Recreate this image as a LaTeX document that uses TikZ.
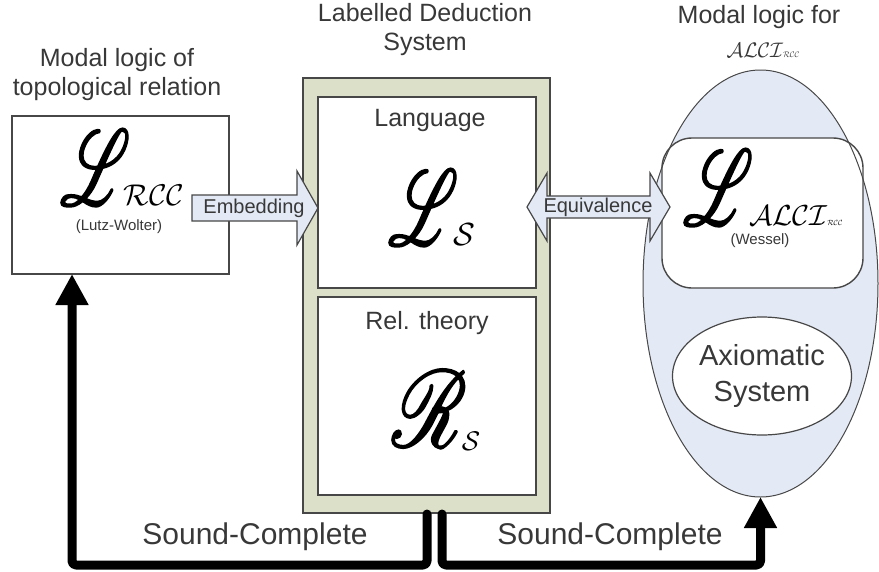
\documentclass[tikz,border=0pt]{standalone}
\usepackage{fontspec}
\setmainfont{Liberation Sans}
\usepackage{mathrsfs}
\usetikzlibrary{shapes.geometric,arrows.meta,calc}

\definecolor{ldsfill}{HTML}{DCE0C9}
\definecolor{ellfill}{HTML}{E4EAF5}
\definecolor{arrowfill}{HTML}{E3EAF6}
\definecolor{txtgray}{HTML}{383838}
\definecolor{edgegray}{HTML}{474747}

\tikzset{
  box/.style={draw=edgegray, line width=1.6pt, fill=white, outer sep=0pt, inner sep=0pt},
  ldsbox/.style={draw=edgegray, line width=1.4pt, fill=ldsfill, outer sep=0pt, inner sep=0pt},
  heading/.style={text=txtgray, align=center, inner sep=0pt, font=\fontsize{25}{29}\selectfont},
  caption/.style={text=txtgray, inner sep=0pt, font=\fontsize{15}{18}\selectfont},
  arrowtext/.style={text=txtgray, inner sep=0pt, font=\fontsize{20}{24}\selectfont},
  bigtext/.style={text=txtgray, inner sep=0pt, align=center, font=\fontsize{29}{36}\selectfont},
  glyph/.style={inner sep=0pt, outer sep=0pt, anchor=base west},
  blockarrow/.style={fill=arrowfill, draw=edgegray, line width=1.2pt, line join=miter},
  soundline/.style={line width=9pt, line cap=round, line join=round, rounded corners=4pt,
    -{Triangle[length=31pt,width=31pt]}},
}

% heavy script letter: glyph outline stroked as well as filled
\newcommand{\heavy}[1]{\special{pdf:literal direct 2 Tr 0.16 w}#1\special{pdf:literal direct 0 Tr}}
\newcommand{\bigscr}[1]{\scalebox{6.6}[10.7]{\heavy{$\mathscr{#1}$}}}
\newcommand{\subcal}[2]{\scalebox{#1}{$\mathcal{#2}$}}

\begin{document}
\begin{tikzpicture}[x=1pt,y=-1pt]
\useasboundingbox (0,0) rectangle (879,571);

% headings
\node[heading] (ttop) at (117,75) {Modal logic of\\topological relation};
\node[heading] (tlds) at (425,30) {Labelled Deduction\\System};
\node[heading] (tml) at (759,17) {Modal logic for};
\node[inner sep=0pt, text=txtgray] (tmlsub) at (763,50) {\subcal{2.1}{ALCI}\subcal{0.8}{RCC}};

% left box: topological modal logic
\node[box, minimum width=217pt, minimum height=158pt, anchor=north west] (lbox) at (12,116) {};
\node[glyph] (Lrcc) at (60,205) {\bigscr{L}\kern-6.4pt\subcal{3}{RCC}};
\node[caption] (lutz) at (119,227) {(Lutz-Wolter)};

% labelled deduction system
\node[ldsbox, minimum width=247pt, minimum height=435pt, anchor=north west] (lds) at (303,78) {};
\node[box, minimum width=218pt, minimum height=191pt, anchor=north west] (lang) at (318,97) {};
\node[box, minimum width=218pt, minimum height=198pt, anchor=north west] (rel) at (318,297) {};
\node[heading] (langt) at (430,120) {Language};
\node[glyph] (Ls) at (388,245) {\bigscr{L}\kern-5pt\subcal{3.2}{S}};
\node[heading] (relt) at (427,323) {Rel. theory};
\node[glyph] (Rs) at (392,447) {\scalebox{8.2}[10.9]{\heavy{$\mathscr{R}$}}\kern-5pt\raisebox{-3pt}{\subcal{2.7}{S}}};

% modal logic for ALCI_RCC
\node[ellipse, fill=ellfill, minimum width=235pt, minimum height=427pt, inner sep=0pt, outer sep=0pt] (mlalci) at (760.5,283.5) {};
\node[box, line width=1.4pt, rounded corners=30pt, minimum width=201pt, minimum height=150pt, anchor=north west] (lalci) at (662,138) {};
\draw[edgegray, line width=1pt] (mlalci.center) ellipse [x radius=117.5, y radius=213.5];
\node[glyph] (La) at (683,225) {\bigscr{L}\kern-4pt\subcal{2.9}{ALCI}\subcal{0.75}{RCC}};
\node[caption] (wessel) at (760,241) {(Wessel)};
\node[ellipse, draw=edgegray, line width=1.2pt, fill=white, minimum width=179pt, minimum height=118pt, inner sep=0pt] (axsys) at (762,376) {};
\node[bigtext] (axtext) at (axsys.center) {Axiomatic\\System};

% block arrows
\path[blockarrow] (192,195) -- (297,195) -- (297,171) -- (318,208) -- (297,245) -- (297,221) -- (192,221) -- cycle;
\node[arrowtext] (emb) at (254,208) {Embedding};
\path[blockarrow] (527,207) -- (547,173) -- (547,196) -- (650,196) -- (650,173) -- (670,207)
  -- (650,241) -- (650,218) -- (547,218) -- (547,241) -- cycle;
\node[arrowtext] (equiv) at (598,207) {Equivalence};

% soundness and completeness connectors
\draw[soundline] ([xshift=0.5pt,yshift=-1pt]lds.south) -- ++(0,51) -| ([xshift=-48.5pt]lbox.south);
\draw[soundline] ([xshift=15.5pt,yshift=-1pt]lds.south) -- ++(0,51) -| (mlalci.south);
\node[bigtext, font=\fontsize{30}{36}\selectfont] (sc1) at (255,537) {Sound-Complete};
\node[bigtext, font=\fontsize{30}{36}\selectfont] (sc2) at (610,537) {Sound-Complete};
\end{tikzpicture}
\end{document}
